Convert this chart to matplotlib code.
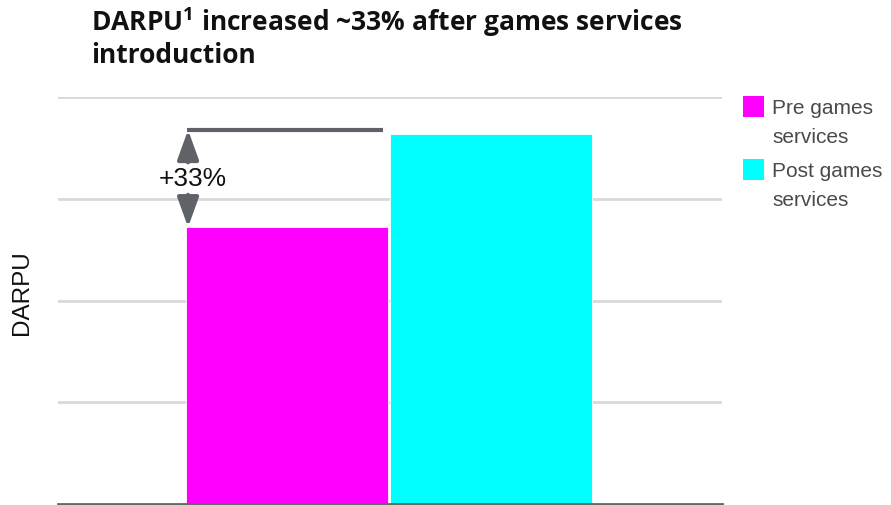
import matplotlib
matplotlib.use("Agg")
import matplotlib.pyplot as plt
from matplotlib.patches import Rectangle

labels = ["Pre games\nservices", "Post games\nservices"]
values = [2.72, 3.64]
colors = ["#ff00ff", "#00ffff"]
title = "DARPU$^\\mathregular{1}$ increased ~33% after games services\nintroduction"
change_label = "+33%"

fig = plt.figure(figsize=(8.91, 5.05), dpi=100)
ax = fig.add_axes([58 / 891, 1 / 505, 664 / 891, 407 / 505])

x = [0, 1]
ax.bar(x, values, width=0.99, color=colors, edgecolor="white", linewidth=0.6, zorder=3)

ax.set_xlim(-1.122, 2.13)
ax.set_ylim(0, 4)
ax.set_yticks([1, 2, 3, 4])
ax.yaxis.grid(True, color="#d9d9d9", linewidth=2, zorder=0)
ax.tick_params(left=False, bottom=False, labelleft=False, labelbottom=False)
for s in ["top", "right", "left"]:
    ax.spines[s].set_visible(False)
ax.spines["bottom"].set_color("#666666")
ax.spines["bottom"].set_linewidth(2)
ax.spines["bottom"].set_zorder(4)

# bracket + arrow showing the increase
top = values[1] * 1.01
ax.plot([x[0] - 0.49, x[1] - 0.53], [top, top], color="#5f6368", lw=3, solid_capstyle="butt", zorder=4)
mid = (values[0] + top) / 2
astyle = dict(arrowstyle="-|>,head_length=1.8,head_width=0.65", color="#5f6368", lw=3, shrinkA=0, shrinkB=0)
ax.annotate("", xy=(x[0] - 0.485, top), xytext=(x[0] - 0.485, mid + 0.16), arrowprops=astyle, zorder=5)
ax.annotate("", xy=(x[0] - 0.485, values[0]), xytext=(x[0] - 0.485, mid - 0.16), arrowprops=astyle, zorder=5)
ax.text(x[0] - 0.46, mid, change_label, ha="center", va="center", fontsize=19,
        family="Liberation Sans", color="#111111", zorder=6)

ax.set_ylabel("DARPU", fontsize=17.5, family="Liberation Sans", color="#111111")
ax.yaxis.set_label_coords(-0.0377, 0.52)

fig.text(91 / 891, 1 - 5 / 505, title, ha="left", va="top", fontsize=19,
         family="Open Sans", fontweight="bold", color="#111111", linespacing=1.15)

# legend drawn by hand: swatch aligned with first line of a two-line label
for i, (lab, c) in enumerate(zip(labels, colors)):
    y0 = 1 - (96 + i * 63) / 505
    fig.patches.append(Rectangle((743 / 891, y0 - 21 / 505), 21 / 891, 21 / 505,
                                 transform=fig.transFigure, facecolor=c, edgecolor="none"))
    fig.text(772 / 891, y0 - 3 / 505, lab, ha="left", va="top", fontsize=15,
             family="Liberation Sans", color="#4a4a4a", linespacing=1.68)

fig.savefig("out.png", dpi=100)
